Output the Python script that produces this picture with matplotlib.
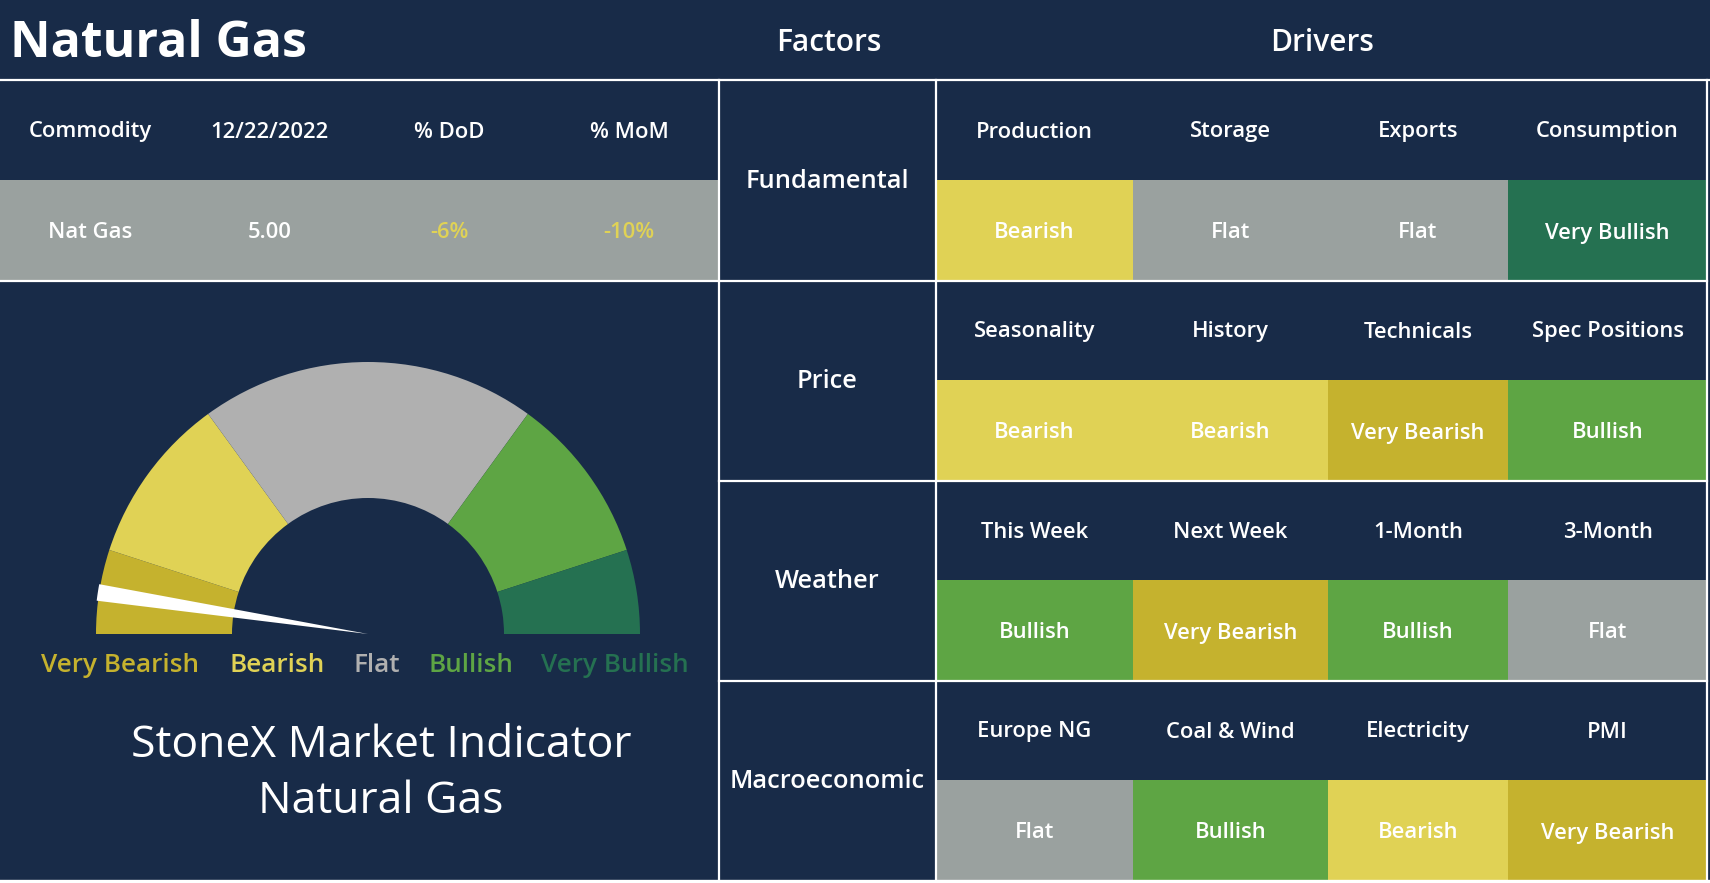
import matplotlib
matplotlib.use("Agg")
import matplotlib.pyplot as plt
from matplotlib.patches import Rectangle

plt.rcParams['font.family'] = ['Open Sans', 'DejaVu Sans']

# ---------------- data ----------------
title = "Natural Gas"
table_headers = ["Commodity", "12/22/2022", "% DoD", "% MoM"]
table_values = ["Nat Gas", "5.00", "-6%", "-10%"]
table_value_colors = ["white", "white", "#E0D255", "#E0D255"]

factors = ["Fundamental", "Price", "Weather", "Macroeconomic"]
drivers = [
    ["Production", "Storage", "Exports", "Consumption"],
    ["Seasonality", "History", "Technicals", "Spec Positions"],
    ["This Week", "Next Week", "1-Month", "3-Month"],
    ["Europe NG", "Coal & Wind", "Electricity", "PMI"],
]
signals = [
    ["Bearish", "Flat", "Flat", "Very Bullish"],
    ["Bearish", "Bearish", "Very Bearish", "Bullish"],
    ["Bullish", "Very Bearish", "Bullish", "Flat"],
    ["Flat", "Bullish", "Bearish", "Very Bearish"],
]

gauge_labels = ["Very Bearish", "Bearish", "Flat", "Bullish", "Very Bullish"]
gauge_spans = [18, 36, 72, 36, 18]          # degrees of the half circle
needle_pos = 7.0                            # degrees from the left end
needle_width = 3.5

# ---------------- styles ----------------
NAVY = "#182B48"
cell_colors = {"Very Bearish": "#C5B22E", "Bearish": "#E0D255", "Flat": "#9AA19F",
               "Bullish": "#5EA544", "Very Bullish": "#257151"}
gauge_colors = ["#C5B22E", "#E0D255", "#B0B0B0", "#5EA544", "#257151"]
label_colors = gauge_colors
W8 = "semibold"

W, H = 1710, 883
fig = plt.figure(figsize=(W / 100, H / 100), dpi=100, facecolor=NAVY)
ax = fig.add_axes([0, 0, 1, 1])
ax.set_xlim(0, W)
ax.set_ylim(H, 0)
ax.axis("off")
ax.add_patch(Rectangle((0, 0), W, H, facecolor=NAVY, edgecolor="none", zorder=0))

# title row
ax.text(10, 44, title, color="white", fontsize=36, fontweight="bold", ha="left", va="center")
ax.text(829, 43, "Factors", color="white", fontsize=21.5, fontweight=W8, ha="center", va="center")
ax.text(1322, 43, "Drivers", color="white", fontsize=21.5, fontweight=W8, ha="center", va="center")

# left table
top, row_h = 80, 200
left_w = 719
ax.add_patch(Rectangle((0, top + 100), left_w, 100, facecolor=cell_colors["Flat"], edgecolor="none", zorder=1))
for i, (h, v, c) in enumerate(zip(table_headers, table_values, table_value_colors)):
    cx = left_w / 4 * (i + 0.5)
    ax.text(cx, top + 52, h, color="white", fontsize=15.8, fontweight=W8, ha="center", va="center", zorder=3)
    ax.text(cx, top + 153, v, color=c, fontsize=15.8, fontweight=W8, ha="center", va="center", zorder=3)

# factors / drivers grid
fac_l, fac_r = 719, 936
col_edges = [936, 1133, 1328, 1508, 1707]
for r, fac in enumerate(factors):
    y0 = top + r * row_h
    ax.text((fac_l + fac_r) / 2, y0 + row_h / 2 + 2, fac, color="white", fontsize=18.3,
            fontweight=W8, ha="center", va="center", zorder=3)
    for c in range(4):
        x0, x1 = col_edges[c], col_edges[c + 1]
        ax.add_patch(Rectangle((x0, y0 + 100), x1 - x0, 100, facecolor=cell_colors[signals[r][c]],
                               edgecolor="none", zorder=1))
        ax.text((x0 + x1) / 2, y0 + 52, drivers[r][c], color="white", fontsize=15.8,
                fontweight=W8, ha="center", va="center", zorder=3)
        ax.text((x0 + x1) / 2, y0 + 153, signals[r][c], color="white", fontsize=15.8,
                fontweight=W8, ha="center", va="center", zorder=3)

# white grid lines
lw = 1.6
ax.plot([0, W], [80, 80], color="white", lw=lw, zorder=4)
ax.plot([0, 1707], [281, 281], color="white", lw=lw, zorder=4)
for y in [481, 681]:
    ax.plot([fac_l, 1707], [y, y], color="white", lw=lw, zorder=4)
ax.plot([0, W], [881, 881], color="white", lw=lw * 1.5, zorder=4)
for x in [fac_l, fac_r, 1707]:
    ax.plot([x, x], [80, 881], color="white", lw=lw, zorder=4)

# gauge labels
label_x = [120, 277, 377, 471, 615]
for lx, lab, col in zip(label_x, gauge_labels, label_colors):
    ax.text(lx, 666, lab, color=col, fontsize=18.8, fontweight=W8, ha="center", va="center", zorder=3)

ax.text(381, 746, "StoneX Market Indicator", color="white", fontsize=32, ha="center", va="center", zorder=3)
ax.text(381, 802, "Natural Gas", color="white", fontsize=32, ha="center", va="center", zorder=3)

# gauge
cx, cy, R = 368, 634, 272
gax = fig.add_axes([(cx - R) / W, (H - cy) / H, 2 * R / W, R / H])
gax.pie(gauge_spans + [sum(gauge_spans)], colors=gauge_colors + ["none"], startangle=180,
        counterclock=False, radius=1.0, wedgeprops=dict(width=0.5, edgecolor="none", linewidth=0))
gax.pie([needle_pos, needle_width, 360 - needle_pos - needle_width], colors=["none", "white", "none"],
        startangle=180, counterclock=False, radius=1.005, wedgeprops=dict(edgecolor="none", linewidth=0))
gax.set_xlim(-1, 1)
gax.set_ylim(0, 1)
gax.set_aspect("auto")
gax.axis("off")

fig.savefig("out.png", dpi=100, facecolor=NAVY)
